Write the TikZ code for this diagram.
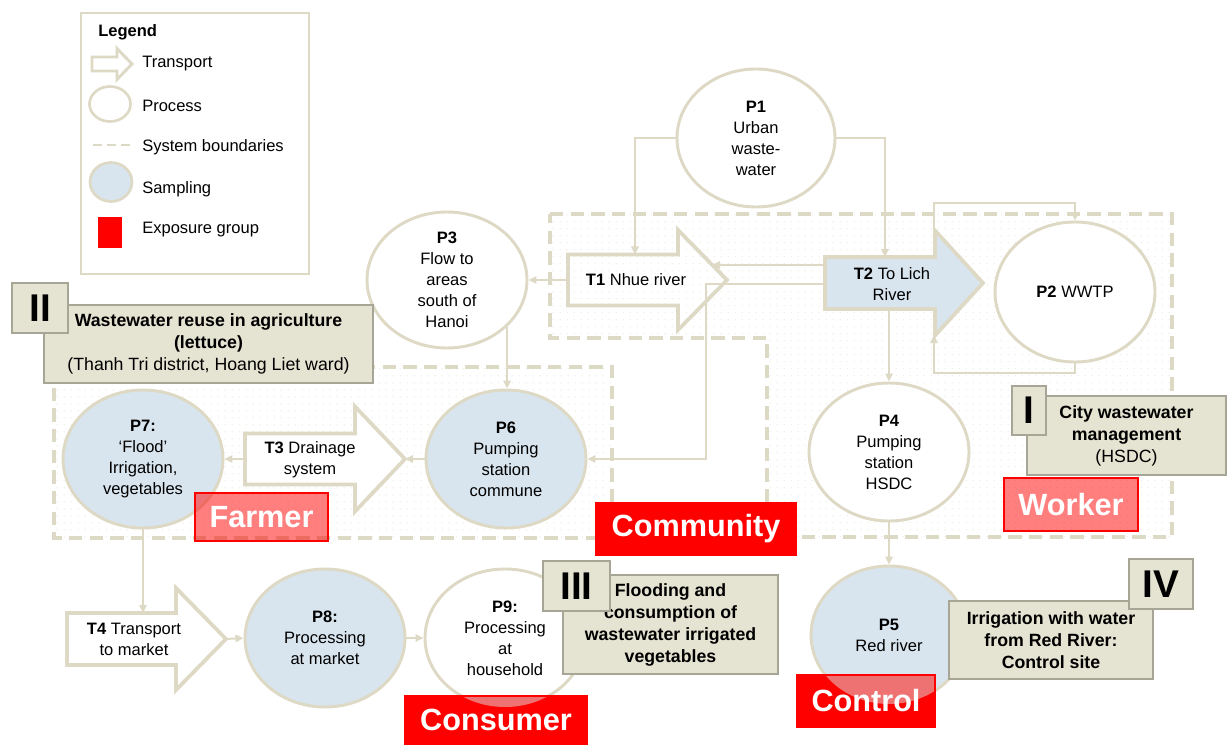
\documentclass[tikz,border=0pt]{standalone}
\usepackage{fontspec}
\setmainfont{Liberation Sans}
\usetikzlibrary{arrows.meta,shapes.geometric,patterns.meta}
\definecolor{beige}{HTML}{DDD9C4}
\definecolor{dashc}{HTML}{DCD9C5}
\definecolor{dotc}{HTML}{DAD7C6}
\definecolor{sblue}{HTML}{D9E5EE}
\definecolor{khaki}{HTML}{E5E3D1}
\definecolor{khakib}{HTML}{A6A596}
\definecolor{pinkov}{HTML}{EE7272}
\tikzdeclarepattern{name=sdots, type=uncolored,
  bounding box={(-2.7pt,-2.7pt) and (2.7pt,2.7pt)},
  tile size={(5.4pt,5.4pt)},
  code={\fill (0pt,0pt) circle (0.42pt);}}
\newcommand\barrow[7]{%
  \draw[blockarrow,#7] (#1,#4-#5) -- (#2,#4-#5) -- (#2,#4-#6) -- (#3,#4) -- (#2,#4+#6) -- (#2,#4+#5) -- (#1,#4+#5) -- cycle;}
\begin{document}
\begin{tikzpicture}[x=0.75pt,y=-0.75pt,
  every node/.style={font=\fontsize{12.4}{15.75}\selectfont, align=center},
  proc/.style={ellipse, draw=beige, line width=2.2pt, fill=white, inner sep=0pt,
    minimum width=120pt, minimum height=103.5pt},
  samp/.style={proc, fill=sblue},
  blockarrow/.style={draw=beige, line width=2.8pt, line join=miter},
  bound/.style={draw=dashc, line width=2.4pt, dash pattern=on 10pt off 5.5pt},
  conn/.style={draw=beige, line width=1.5pt, -{Triangle[length=6pt,width=5.5pt]}},
  lbox/.style={draw=khakib, fill=khaki, line width=2.2pt, inner sep=0pt,
    font=\fontsize{13.3}{16.5}\selectfont},
  lboxb/.style={lbox, font=\fontsize{13.3}{16.5}\selectfont\bfseries},
  nbox/.style={draw=khakib, fill=khaki, line width=2.2pt, inner sep=0pt,
    font=\fontsize{29}{32}\selectfont\bfseries},
  expo/.style={draw=red, fill=red, line width=2.2pt, inner sep=0pt, text=white,
    font=\fontsize{23}{27}\selectfont\bfseries},
  expot/.style={expo, fill opacity=0.5, text opacity=1, draw opacity=1},
  ltext/.style={anchor=west, inner sep=0pt, align=left}]
\useasboundingbox (0,0) rectangle (1228,745);

% system boundaries
\path[pattern=sdots, pattern color=dotc] (550,214) -- (1172,214) -- (1172,537) -- (767,537) -- (767,338) -- (550,338) -- cycle;
\path[pattern=sdots, pattern color=dotc] (54,367) rectangle (612,538);
\draw[bound] (550,214) -- (1172,214) -- (1172,537) -- (767,537) -- (767,338) -- (550,338) -- cycle;
\draw[bound] (54,367) rectangle (612,538);

% legend
\draw[draw=beige, line width=2.2pt] (81,13) rectangle (309,274);
\node[ltext, font=\fontsize{12.4}{15}\selectfont\bfseries] (lgh) at (98,32) {Legend};
\draw[draw=beige, line width=2.2pt, fill=white, line join=miter] (92,57) -- (117,57) -- (117,48.5) -- (132,64) -- (117,79.5) -- (117,71) -- (92,71) -- cycle;
\node[ltext] (lgt) at (142,64) {Transport};
\node[ellipse, draw=beige, line width=2pt, minimum width=30.75pt, minimum height=26.25pt, inner sep=0pt] (lgp) at (110,104) {};
\node[ltext] (lgpt) at (142,106) {Process};
\draw[draw=dashc, line width=2pt, dash pattern=on 7pt off 3.5pt] (93,145) -- (130,145);
\node[ltext] (lgbt) at (142,147) {System boundaries};
\node[ellipse, draw=beige, fill=sblue, line width=2pt, minimum width=31.5pt, minimum height=29.25pt, inner sep=0pt] (lgs) at (111,182) {};
\node[ltext] (lgst) at (142,189) {Sampling};
\fill[red] (98,217) rectangle (122,248);
\node[ltext] (lget) at (142,230) {Exposure group};

% block arrows (transport)
\barrow{568}{678}{727}{280}{25.5}{50}{}
\node (T1) at (636,280) {\textbf{T1} Nhue river};
\barrow{825}{935}{983}{283}{26}{52.5}{fill=sblue}
\node (T2) at (892,284) {\textbf{T2} To Lich\\River};
\barrow{245}{355}{405}{459}{25.5}{52.5}{fill=white}
\node (T3) at (310,460) {\textbf{T3} Drainage\\system};
\barrow{67}{176}{226}{639}{26}{51}{fill=white}
\node (T4) at (134,639) {\textbf{T4} Transport\\to market};

\coordinate (T1in) at (635,254.5);
\coordinate (T2in) at (885,257);
\coordinate (T1tail) at (568,280);
\coordinate (T1edge) at (712,265);
\coordinate (T2l1) at (825,265);
\coordinate (T2l2) at (825,284);
\coordinate (J1) at (706,284);
\coordinate (T2ht) at (934,231);
\coordinate (T2hb) at (934,335);
\coordinate (T2b) at (889,309);
\coordinate (T3tip) at (405,459);
\coordinate (T3tail) at (245,459);
\coordinate (T4in) at (143,613);
\coordinate (T4tip) at (226,639);

% processes
\node[proc, minimum width=118.5pt] (P1) at (756,138) {\textbf{P1}\\Urban\\waste-\\water};
\node[proc, minimum height=105pt] (P2) at (1075,292) {\textbf{P2} WWTP};
\node[proc, minimum height=102pt, inner ysep=-2pt] (P3) at (447,280) {\textbf{P3}\\Flow to\\areas\\south of\\Hanoi};
\node[proc] (P4) at (889,452) {\textbf{P4}\\Pumping\\station\\HSDC};
\node[samp, minimum width=117pt] (P5) at (889,635) {\textbf{P5}\\Red river};
\node[samp] (P6) at (506,459) {\textbf{P6}\\Pumping\\station\\commune};
\node[samp] (P7) at (143,459) {\textbf{P7:}\\‘Flood’\\Irrigation,\\vegetables};
\node[samp] (P8) at (325,638) {\textbf{P8:}\\Processing\\at market};
\node[proc] (P9) at (505,638) {\textbf{P9:}\\Processing\\at\\household};

% connectors
\draw[conn] (P1.west) -| (T1in);
\draw[conn] (P1.east) -| (T2in);
\draw[conn] (T1tail) -- (P3.east);
\draw[conn] (T2l1) -- (T1edge);
\draw[conn] (T2l2) -- (J1) |- (P6.east);
\draw[conn] (T2ht) -- (934,203) -| (P2.north);
\draw[conn] (P2.south) -- (1075,373) -| (T2hb);
\draw[conn] (T2b) -- (P4.north);
\draw[conn] (P3.-38) -- (P3.-38 |- P6.north);
\draw[conn] (P6.west) -- (T3tip);
\draw[conn] (T3tail) -- (P7.east);
\draw[conn] (P7.south) -- (T4in);
\draw[conn] (T4tip) -- (P8.west);
\draw[conn] (P8.east) -- (P9.west);
\draw[conn] (P4.south) -- (P5.north);

% case study boxes
\node[lbox, minimum width=246.75pt, minimum height=58.5pt] (L2) at (208.5,344)
  {\textbf{Wastewater reuse in agriculture}\\\textbf{(lettuce)}\\(Thanh Tri district, Hoang Liet ward)};
\node[nbox, minimum width=42pt, minimum height=37.5pt] (N2) at (40,308) {II};
\node[lbox, minimum width=149.25pt, minimum height=59.25pt] (L1) at (1126.5,435.5)
  {\textbf{City wastewater}\\\textbf{management}\\(HSDC)};
\node[nbox, minimum width=25.5pt, minimum height=36.75pt] (N1) at (1029,410.5) {I};
\node[lboxb, minimum width=161.25pt, minimum height=74.25pt] (L3) at (670.5,624.5)
  {Flooding and\\consumption of\\wastewater irrigated\\vegetables};
\node[nbox, minimum width=50.25pt, minimum height=37.5pt] (N3) at (576.5,586) {III};
\node[lboxb, minimum width=153pt, minimum height=58.5pt] (L4) at (1051,640)
  {Irrigation with water\\from Red River:\\Control site};
\node[nbox, minimum width=48pt, minimum height=37.5pt] (N4) at (1161,584) {IV};

% exposure groups
\node[expot, minimum width=99.75pt, minimum height=36pt] (farmer) at (261.5,517) {Farmer};
\node[expo, minimum width=150pt, minimum height=39pt] (community) at (696,529) {Community};
\node[expot, minimum width=100.5pt, minimum height=39.75pt] (worker) at (1071,504.5) {Worker};
\node[expo, minimum width=136.5pt, minimum height=36pt,
  path picture={\fill[pinkov] (P9.center) ellipse [x radius=60pt, y radius=51.75pt];}] (consumer) at (496,720) {Consumer};
\node[expo, minimum width=103.5pt, minimum height=39pt,
  path picture={\fill[pinkov] (P5.center) ellipse [x radius=58.5pt, y radius=51.75pt];}] (control) at (866,701) {Control};
\end{tikzpicture}
\end{document}
